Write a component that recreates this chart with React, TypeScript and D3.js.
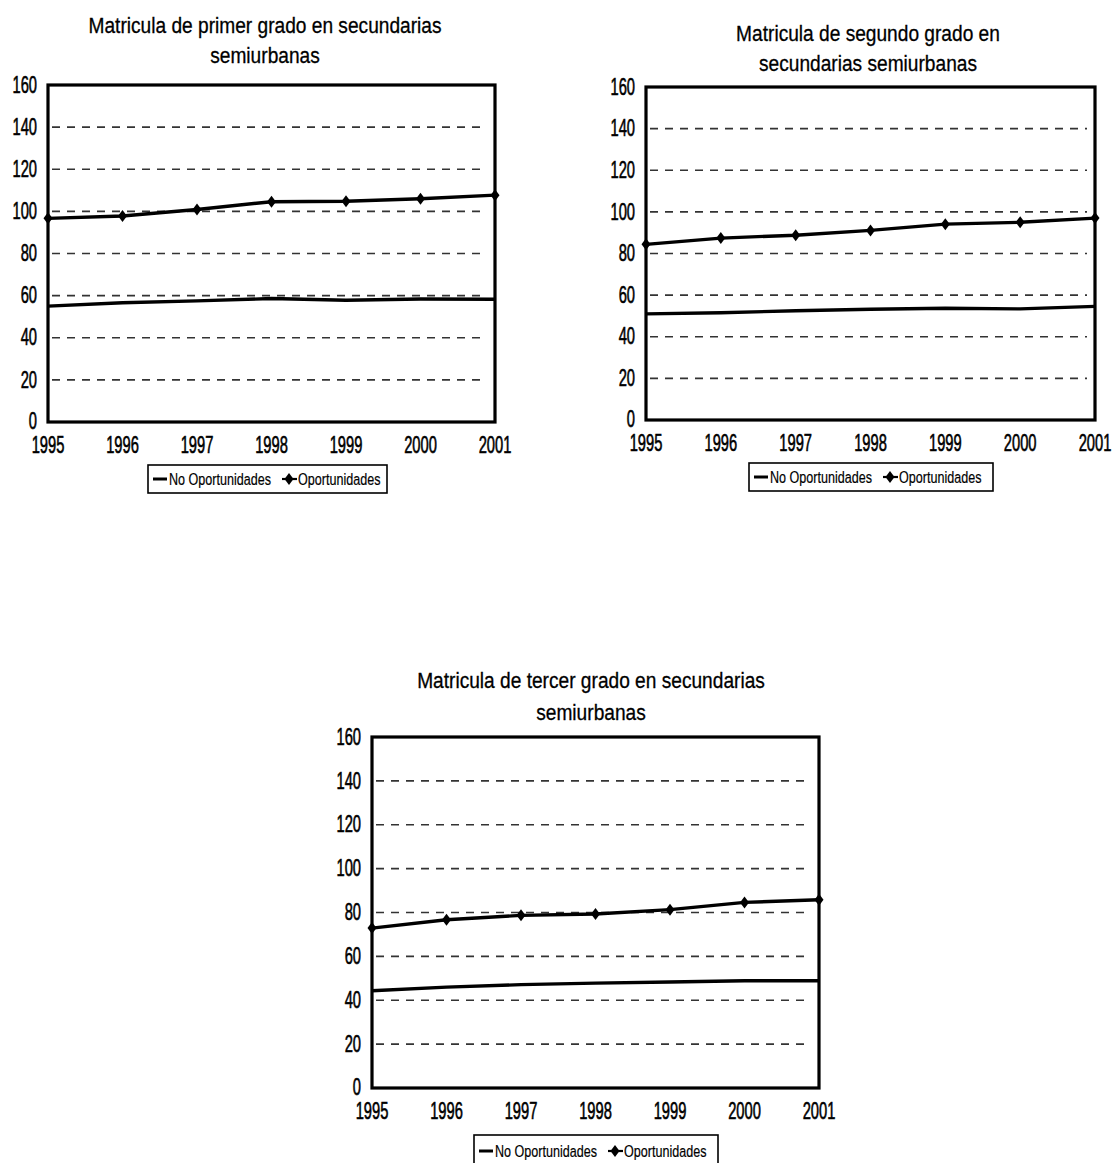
import React from 'react';
import * as d3 from 'd3';

const years = ['1995', '1996', '1997', '1998', '1999', '2000', '2001'];
const yTicks = [0, 20, 40, 60, 80, 100, 120, 140, 160];
const gridTicks = [20, 40, 60, 80, 100, 120, 140];
const seriesNames = ['No Oportunidades', 'Oportunidades'];

const titles1 = ['Matricula de primer grado en secundarias', 'semiurbanas'];
const noOp1 = [55, 56.6, 57.5, 58.6, 57.8, 58.4, 58.3];
const op1 = [96.7, 97.8, 100.9, 104.6, 104.8, 106, 107.7];

const titles2 = ['Matricula de segundo grado en', 'secundarias semiurbanas'];
const noOp2 = [51, 51.5, 52.5, 53.2, 53.7, 53.4, 54.6];
const op2 = [84.4, 87.4, 88.8, 91.1, 94.1, 95, 97];

const titles3 = ['Matricula de tercer grado en secundarias', 'semiurbanas'];
const noOp3 = [44.3, 46, 47.1, 47.8, 48.3, 48.9, 48.9];
const op3 = [72.9, 76.7, 78.7, 79.3, 81.3, 84.6, 85.8];

const FONT = "'Liberation Sans', Arial, sans-serif";

type Layout = {
  left: number; right: number; top: number; bottom: number;
  titleX: number; titleY: [number, number];
  xLabelY: number;
  legend: { x: number; y: number; w: number; h: number };
};

const layout1: Layout = {
  left: 48, right: 495, top: 85, bottom: 422,
  titleX: 265, titleY: [33, 63], xLabelY: 445,
  legend: { x: 148, y: 465, w: 239, h: 28 },
};
const layout2: Layout = {
  left: 646, right: 1095, top: 87, bottom: 420,
  titleX: 868, titleY: [41, 71], xLabelY: 443,
  legend: { x: 749, y: 463, w: 244, h: 28 },
};
const layout3: Layout = {
  left: 372, right: 819, top: 737, bottom: 1088,
  titleX: 591, titleY: [688, 720], xLabelY: 1111,
  legend: { x: 474, y: 1135, w: 244, h: 32 },
};

function diamond(cx: number, cy: number, hw = 4.5, hh = 6) {
  return `M${cx},${cy - hh}L${cx + hw},${cy}L${cx},${cy + hh}L${cx - hw},${cy}Z`;
}

function T({ x, y, sx, size, anchor = 'start', baseline = 'auto', sw = 0.4, children }: any) {
  return (
    <g transform={`translate(${x},${y}) scale(${sx},1)`}>
      <text x={0} y={0} textAnchor={anchor} dominantBaseline={baseline} fontSize={size} stroke="#000" strokeWidth={sw}>{children}</text>
    </g>
  );
}

function Chart({ L, titles, noOp, op }: { L: Layout; titles: string[]; noOp: number[]; op: number[] }) {
  const x = d3.scalePoint<string>().domain(years).range([L.left, L.right]).padding(0);
  const y = d3.scaleLinear().domain([0, 160]).range([L.bottom, L.top]);
  const line = d3.line<number>().x((_, i) => x(years[i]) as number).y((d) => y(d));
  const lg = L.legend;
  const ly = lg.y + lg.h / 2;
  return (
    <g fontFamily={FONT} fill="#000">
      {titles.map((t, i) => (
        <T key={i} x={L.titleX} y={L.titleY[i]} sx={0.87} size={22} anchor="middle" sw={0.3}>{t}</T>
      ))}
      {gridTicks.map((t) => (
        <line key={t} x1={L.left + 4} x2={L.right - 8} y1={y(t)} y2={y(t)} stroke="#333" strokeWidth={1.7} strokeDasharray="8,7" />
      ))}
      <rect x={L.left} y={L.top} width={L.right - L.left} height={L.bottom - L.top} fill="none" stroke="#000" strokeWidth={3.2} />
      {yTicks.map((t) => (
        <T key={t} x={L.left - 11} y={y(t) - (t === 0 ? 1 : 0)} sx={0.64} size={23} anchor="end" baseline="central" sw={0.6}>{t}</T>
      ))}
      {years.map((yr) => (
        <T key={yr} x={x(yr)} y={L.xLabelY} sx={0.64} size={23} anchor="middle" baseline="central" sw={0.6}>{yr}</T>
      ))}
      <path d={line(noOp) || ''} fill="none" stroke="#000" strokeWidth={3.4} />
      <path d={line(op) || ''} fill="none" stroke="#000" strokeWidth={3.4} />
      {op.map((v, i) => (
        <path key={i} d={diamond(x(years[i]) as number, y(v))} fill="#000" />
      ))}
      <rect x={lg.x} y={lg.y} width={lg.w} height={lg.h} fill="#fff" stroke="#000" strokeWidth={1.6} />
      <line x1={lg.x + 5} x2={lg.x + 19} y1={ly} y2={ly} stroke="#000" strokeWidth={3} />
      <T x={lg.x + 21} y={ly} sx={0.74} size={17} baseline="central" sw={0.2}>{seriesNames[0]}</T>
      <line x1={lg.x + 134} x2={lg.x + 149} y1={ly} y2={ly} stroke="#000" strokeWidth={2.2} />
      <path d={diamond(lg.x + 141, ly)} fill="#000" />
      <T x={lg.x + 150} y={ly} sx={0.74} size={17} baseline="central" sw={0.2}>{seriesNames[1]}</T>
    </g>
  );
}

export default function App() {
  return (
    <svg width={1117} height={1163} style={{ position: 'absolute', left: 0, top: 0, background: '#fff' }}>
      <rect width={1117} height={1163} fill="#fff" />
      <Chart L={layout1} titles={titles1} noOp={noOp1} op={op1} />
      <Chart L={layout2} titles={titles2} noOp={noOp2} op={op2} />
      <Chart L={layout3} titles={titles3} noOp={noOp3} op={op3} />
    </svg>
  );
}
